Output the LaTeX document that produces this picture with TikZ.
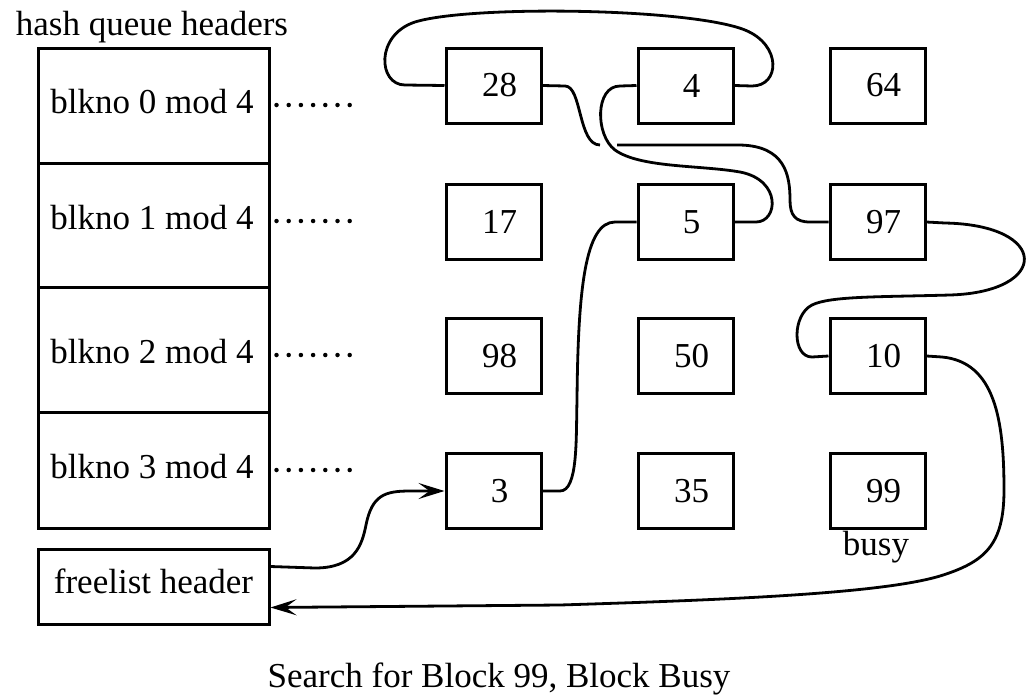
\documentclass[tikz,border=0pt]{standalone}
\usepackage{fontspec}
\setmainfont{Liberation Serif}
\usetikzlibrary{arrows.meta}
\begin{document}
\begin{tikzpicture}[x=1pt,y=-1pt,
  every node/.style={font=\fontsize{35}{40}\selectfont, inner sep=0pt},
  blk/.style={draw, line width=3pt, minimum width=95pt, minimum height=75pt, execute at begin node=\hspace*{12pt}},
  cell/.style={draw, line width=3pt, minimum width=231pt},
  link/.style={line width=2.8pt},
  arr/.style={link, -{Stealth[length=26pt,width=16pt,inset=11pt]}},
  leader/.style={line width=4.5pt, line cap=round, dash pattern=on 0pt off 12.2pt}]
\useasboundingbox (0,0) rectangle (1034,697);

% hash queue headers column
\node[anchor=base] (title) at (152,35) {hash queue headers};
\node[cell, minimum height=115pt] (c0) at (153.5,105.5) {};
\node[cell, minimum height=124pt] (c1) at (153.5,225) {};
\node[cell, minimum height=125pt] (c2) at (153.5,349.5) {};
\node[cell, minimum height=116pt] (c3) at (153.5,470) {};
\node[anchor=base] (t0) at (152,113) {blkno 0 mod 4};
\node[anchor=base] (t1) at (152,229) {blkno 1 mod 4};
\node[anchor=base] (t2) at (152,363) {blkno 2 mod 4};
\node[anchor=base] (t3) at (152,478) {blkno 3 mod 4};
\draw[leader] (c0.east |- 0,105) ++(6,0) -- (351,105);
\draw[leader] (c1.east |- 0,221) ++(6,0) -- (351,221);
\draw[leader] (c2.east |- 0,355) ++(6,0) -- (351,355);
\draw[leader] (c3.east |- 0,470) ++(6,0) -- (351,470);

% freelist header
\node[draw, line width=3pt, minimum width=231pt, minimum height=75pt, text height=24pt, text depth=11pt] (fl) at (153.5,586.5) {freelist header};

% buffers
\node[blk] (b28) at (493.5,85.5) {28};
\node[blk] (b4)  at (685.5,85.5) {4};
\node[blk] (b64) at (877.5,85.5) {64};
\node[blk] (b17) at (493.5,222) {17};
\node[blk] (b5)  at (685.5,222) {5};
\node[blk] (b97) at (877.5,222) {97};
\node[blk] (b98) at (493.5,356) {98};
\node[blk] (b50) at (685.5,356) {50};
\node[blk] (b10) at (877.5,356) {10};
\node[blk] (b3)  at (493.5,491) {3};
\node[blk] (b35) at (685.5,491) {35};
\node[blk] (b99) at (877.5,491) {99};
\node[anchor=base] (busy) at (876,555) {busy};

% gap in 28 -> 97 link where 5 -> 4 crosses
\coordinate (gapL) at (600,145);
\coordinate (gapR) at (617,145);

% free list links
\draw[arr] ([yshift=-19pt]fl.north east) -- (315,568)
  .. controls (355,568) and (362,545) .. (366,525)
  .. controls (372,495) and (385,491) .. (410,491) -- (b3.west);
\draw[link] (b3.east) -- (560,491)
  .. controls (578,491) and (576,440) .. (577,400)
  .. controls (578,290) and (585,222) .. (615,222) -- (b5.west);
\draw[link] (b5.east) -- (756,222)
  .. controls (778,222) and (782,180) .. (740,172)
  .. controls (700,165) and (640,168) .. (615,150)
  .. controls (595,135) and (595,86) .. (620,86) -- (b4.west);
\draw[link] (b4.east) -- (752,86)
  .. controls (780,86) and (782,45) .. (745,30)
  .. controls (690,8) and (470,5) .. (415,22)
  .. controls (375,35) and (378,85) .. (405,85) -- (b28.west);
\draw[link] (b28.east) -- (565,86)
  .. controls (582,86) and (578,145) .. (gapL);
\draw[link] (gapR) -- (740,145)
  .. controls (785,146) and (790,175) .. (790,200)
  .. controls (790,215) and (795,222) .. (810,222) -- (b97.west);
\draw[link] (b97.east) -- (945,223)
  .. controls (1050,225) and (1050,292) .. (950,295)
  .. controls (880,297) and (830,296) .. (812,305)
  .. controls (792,315) and (792,357) .. (812,357) -- (b10.west);
\draw[arr] (b10.east) -- (942,357)
  .. controls (995,362) and (1004,420) .. (1004,490)
  .. controls (1004,545) and (985,562) .. (940,576)
  .. controls (880,594) and (720,600) .. (560,605)
  -- ([yshift=18pt]fl.south east);

% caption
\node[anchor=base] (cap) at (499,687) {Search for Block 99, Block Busy};
\end{tikzpicture}
\end{document}
